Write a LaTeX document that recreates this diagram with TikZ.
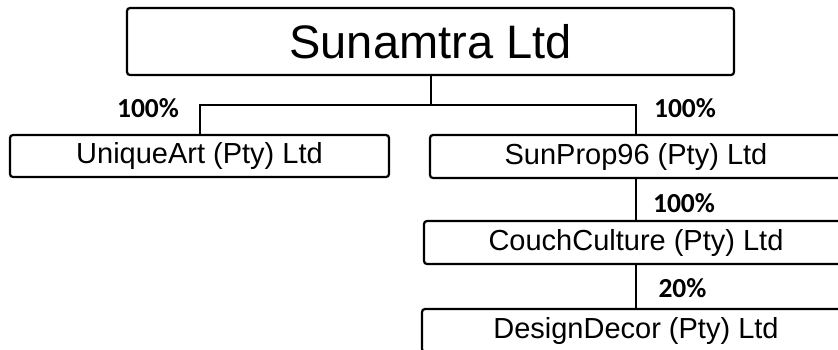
\documentclass[tikz,border=0pt]{standalone}
\usepackage{fontspec}
\setmainfont{Liberation Sans}
\newfontfamily\labfont{Carlito}
\begin{document}
\begin{tikzpicture}[x=1pt,y=-1pt,
  box/.style={draw, line width=2.2pt, rounded corners=3pt, inner sep=0pt,
    font=\fontsize{29}{32}\selectfont},
  pct/.style={anchor=base, inner sep=0pt, font=\labfont\bfseries\fontsize{27.5}{30}\selectfont},
  link/.style={line width=2pt}]
\clip (0,0) rectangle (838,349);
\node[box, minimum width=607pt, minimum height=67pt, font=\fontsize{47}{52}\selectfont] (top) at (430.5,41.5) {Sunamtra Ltd};
\node[box, minimum width=379pt, minimum height=42pt] (unique) at (199.5,156) {UniqueArt (Pty) Ltd};
\node[box, minimum width=412pt, minimum height=43pt] (sunprop) at (636,156.5) {SunProp96 (Pty) Ltd};
\node[box, minimum width=424pt, minimum height=43pt] (couch) at (636,242.5) {CouchCulture (Pty) Ltd};
\node[box, minimum width=428pt, minimum height=43pt] (design) at (636,330.5) {DesignDecor (Pty) Ltd};
\coordinate (j) at (430.5,105);
\draw[link] (top.south) -- (j);
\draw[link] (j) -| (unique.north);
\draw[link] (j) -| (sunprop.north);
\draw[link] (sunprop.south) -- (couch.north);
\draw[link] (couch.south) -- (design.north);
\node[pct] (p1) at (148,117) {100\%};
\node[pct] (p2) at (685,117) {100\%};
\node[pct] (p3) at (684,212) {100\%};
\node[pct] (p4) at (682.5,297) {20\%};
\end{tikzpicture}
\end{document}
